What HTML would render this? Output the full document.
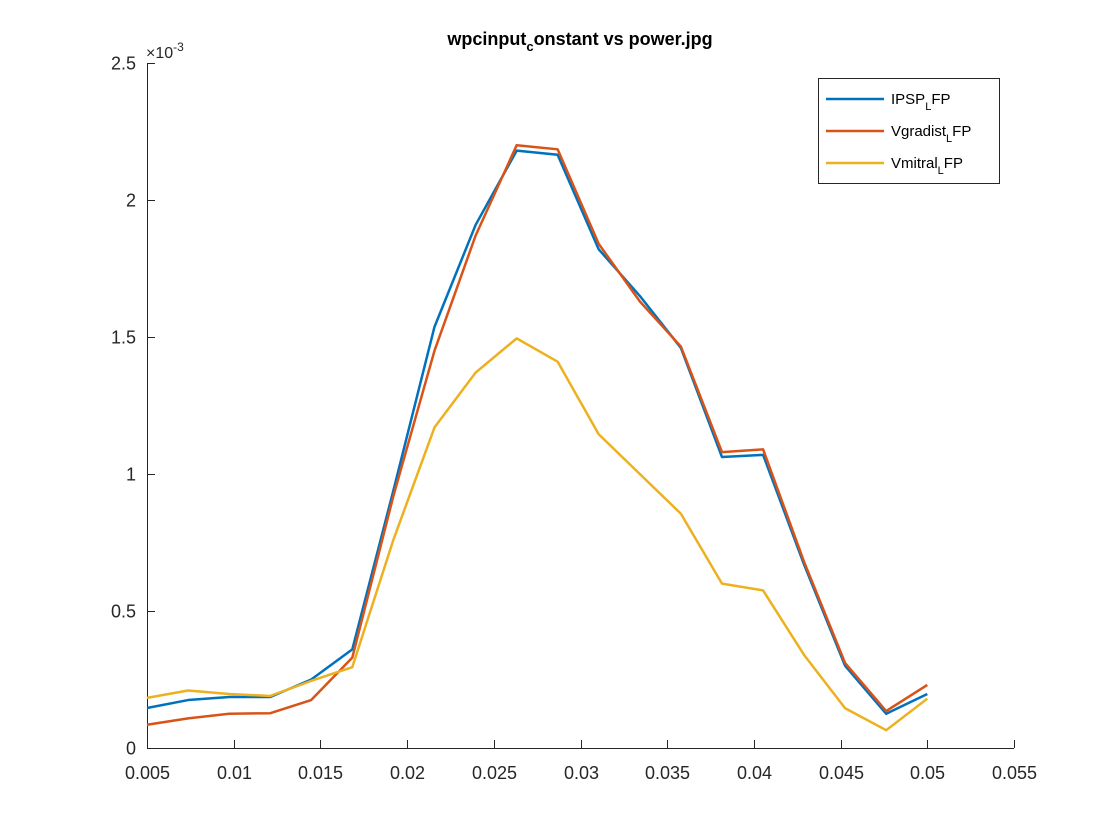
<!DOCTYPE html>
<html><head><meta charset="utf-8"><style>
body{margin:0;background:#fff;}
svg{display:block;font-family:"Liberation Sans",sans-serif;}
</style></head><body>
<svg id="chart" width="1120" height="840">
<rect width="1120" height="840" fill="#fff"/>
<g id="axes"></g>
<g id="lines"></g>
<text x="580" y="45" font-size="18" font-weight="bold" text-anchor="middle">wpcinput<tspan font-size="13" dy="6">c</tspan><tspan dy="-6">onstant vs power.jpg</tspan></text>
<text x="146" y="58" font-size="16" fill="#262626">×10<tspan font-size="12" dy="-7">-3</tspan></text>
<g>
<rect x="818.5" y="78.5" width="181" height="105" fill="#fff" stroke="#262626" stroke-width="1"/>
<g><line x1="826" y1="99" x2="884" y2="99" stroke="#0072BD" stroke-width="2.5"/><text x="891" y="104" font-size="15">IPSP<tspan font-size="11" dy="6">L</tspan><tspan dy="-6">FP</tspan></text></g>
<g><line x1="826" y1="131" x2="884" y2="131" stroke="#D95319" stroke-width="2.5"/><text x="891" y="136" font-size="15">Vgradist<tspan font-size="11" dy="6">L</tspan><tspan dy="-6">FP</tspan></text></g>
<g><line x1="826" y1="163" x2="884" y2="163" stroke="#EDB120" stroke-width="2.5"/><text x="891" y="168" font-size="15">Vmitral<tspan font-size="11" dy="6">L</tspan><tspan dy="-6">FP</tspan></text></g>
</g>
</svg>
<script>
const xTicks=[0.005,0.01,0.015,0.02,0.025,0.03,0.035,0.04,0.045,0.05,0.055];
const xTickLabels=["0.005","0.01","0.015","0.02","0.025","0.03","0.035","0.04","0.045","0.05","0.055"];
const yTicks=[0,0.5,1,1.5,2,2.5];
const yTickLabels=["0","0.5","1","1.5","2","2.5"];
const xValues=[0.005,0.00737,0.00974,0.01211,0.01447,0.01684,0.01921,0.02158,0.02395,0.02632,0.02868,0.03105,0.03342,0.03579,0.03816,0.04053,0.04289,0.04526,0.04763,0.05];
const ipsp=[0.146,0.175,0.186,0.186,0.25,0.36,0.94,1.537,1.909,2.18,2.165,1.82,1.65,1.46,1.062,1.07,0.67,0.30,0.125,0.197];
const vgradist=[0.085,0.108,0.125,0.127,0.175,0.33,0.92,1.45,1.87,2.20,2.185,1.84,1.63,1.465,1.08,1.09,0.68,0.31,0.135,0.23];
const vmitral=[0.183,0.21,0.197,0.19,0.245,0.295,0.76,1.17,1.37,1.495,1.41,1.145,1.00,0.855,0.60,0.575,0.34,0.145,0.065,0.18];
const ns="http://www.w3.org/2000/svg";
const X=v=>147+(v-0.005)/0.05*867;
const Y=v=>748-v/2.5*685;
const ax=document.getElementById('axes');
function mk(t,a,p){const e=document.createElementNS(ns,t);for(const k in a)e.setAttribute(k,a[k]);p.appendChild(e);return e;}
let e=mk('line',{x1:147,y1:748.5,x2:1014,y2:748.5,stroke:'#262626'},ax);


e=mk('line',{x1:147.5,y1:63,x2:147.5,y2:748,stroke:'#262626'},ax);


xTicks.forEach((v,i)=>{const x=Math.round(X(v))+0.5;
mk('line',{x1:x,y1:748,x2:x,y2:740,stroke:'#262626'},ax);
const t=mk('text',{x:x,y:779,'font-size':18,'text-anchor':'middle',fill:'#262626'},ax);t.textContent=xTickLabels[i];

});
yTicks.forEach((v,i)=>{const y=Math.round(Y(v))+0.5;
mk('line',{x1:147,y1:y,x2:155,y2:y,stroke:'#262626'},ax);
const t=mk('text',{x:136,y:y+6,'font-size':18,'text-anchor':'end',fill:'#262626'},ax);t.textContent=yTickLabels[i];

});
const lg=document.getElementById('lines');
[[ipsp,'#0072BD','ipsp-line'],[vgradist,'#D95319','vgradist-line'],[vmitral,'#EDB120','vmitral-line']].forEach(([s,c,n])=>{
const p=mk('polyline',{points:s.map((v,i)=>X(xValues[i])+','+Y(v)).join(' '),fill:'none',stroke:c,'stroke-width':2.5,'stroke-linejoin':'round'},lg);

});
</script>
</body></html>
